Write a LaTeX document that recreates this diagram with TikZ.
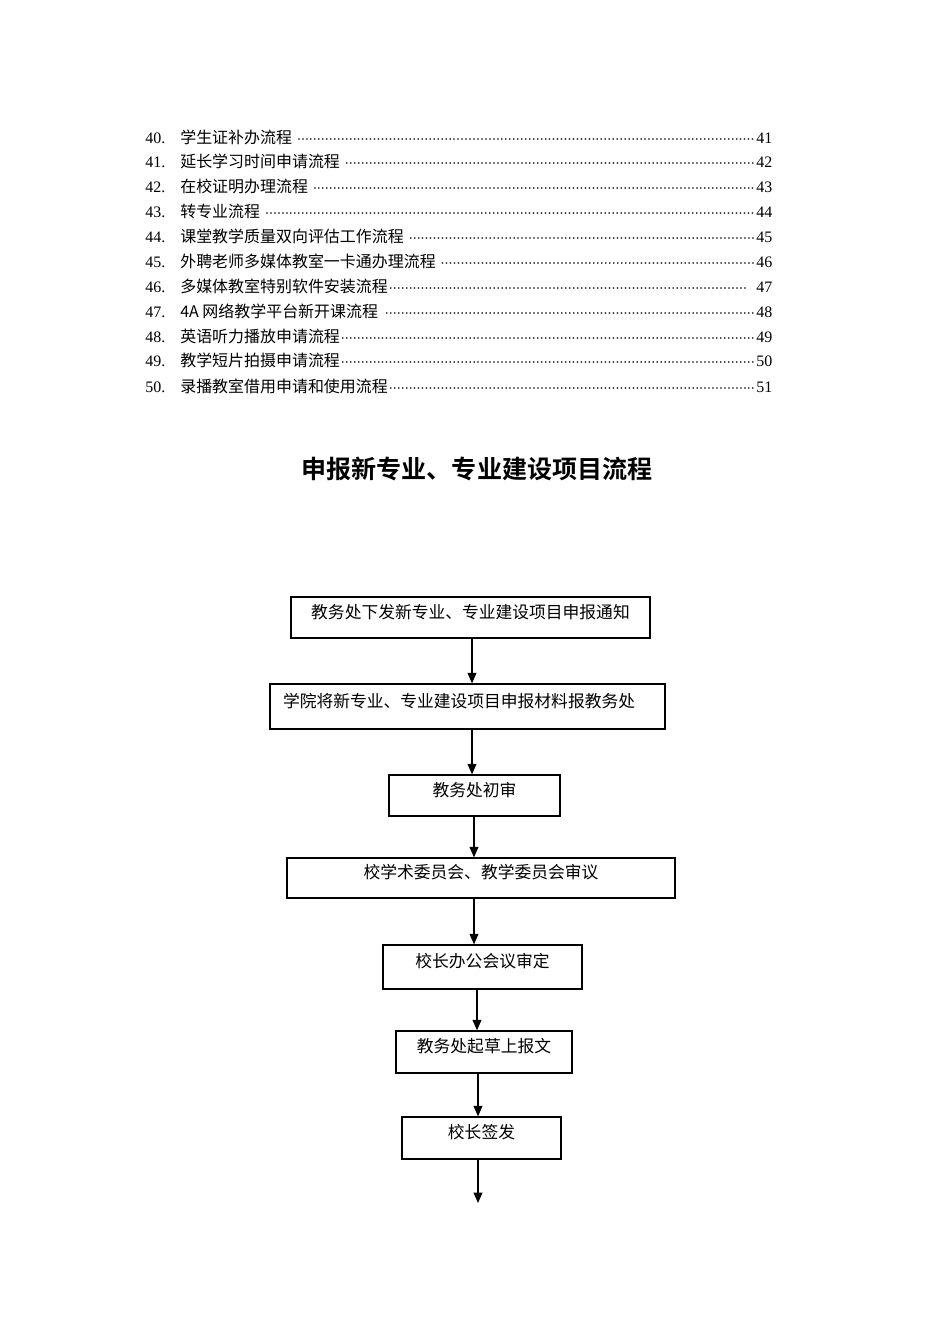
\documentclass[tikz,border=0pt]{standalone}
\usepackage{fontspec}
\setmainfont{Liberation Serif}
\newfontfamily\cjk{Noto Sans CJK SC}[BoldFont={Noto Sans CJK SC Bold}]
\usetikzlibrary{arrows.meta}

\newcommand\pxu{0.6263pt}
\newcommand\tocdots{\leaders\hbox to 2.5pt{\hss$\cdot$\hss}\hfill}
\newcommand\tocline[4]{\makebox[392.7pt][l]{\makebox[21.9pt][l]{#1}{\cjk #2}#3\tocdots #4}}

\tikzset{
  tocrow/.style={anchor=base west, inner sep=0, font=\fontsize{10}{12}\selectfont},
  stepbox/.style={draw, line width=0.8pt, inner sep=0, text height=10.5pt, text depth=9.5pt,
    font=\cjk\fontsize{10.5}{12}\selectfont},
  flow/.style={line width=0.8pt, -{Triangle[length=6.5pt,width=5.5pt]}}
}

\begin{document}
\begin{tikzpicture}[x=\pxu, y=-\pxu]
	\useasboundingbox (0,0) rectangle (950,1344);
	% table of contents
	\node[tocrow] (toc40) at (145,143) {\tocline{40.}{学生证补办流程}{\ }{41}};
	\node[tocrow] (toc41) at (145,167) {\tocline{41.}{延长学习时间申请流程}{\ }{42}};
	\node[tocrow] (toc42) at (145,192) {\tocline{42.}{在校证明办理流程}{\ }{43}};
	\node[tocrow] (toc43) at (145,217) {\tocline{43.}{转专业流程}{\ }{44}};
	\node[tocrow] (toc44) at (145,242) {\tocline{44.}{课堂教学质量双向评估工作流程}{\ }{45}};
	\node[tocrow] (toc45) at (145,267) {\tocline{45.}{外聘老师多媒体教室一卡通办理流程}{\ }{46}};
	\node[tocrow] (toc46) at (145,292) {\tocline{46.}{多媒体教室特别软件安装流程}{}{\ \ 47}};
	\node[tocrow] (toc47) at (145,317) {\tocline{47.}{4A 网络教学平台新开课流程}{\ }{48}};
	\node[tocrow] (toc48) at (145,342) {\tocline{48.}{英语听力播放申请流程}{}{49}};
	\node[tocrow] (toc49) at (145,366) {\tocline{49.}{教学短片拍摄申请流程}{}{50}};
	\node[tocrow] (toc50) at (145,392) {\tocline{50.}{录播教室借用申请和使用流程}{}{51}};

	% flow chart
	\node[font=\cjk\bfseries\fontsize{15.7}{18}\selectfont] (title) at (477,469) {申报新专业、专业建设项目流程};
	\node[stepbox, minimum width=359*\pxu, minimum height=41*\pxu] (notice) at (470.5,617.5) {教务处下发新专业、专业建设项目申报通知};
	\node[stepbox, minimum width=395*\pxu, minimum height=45*\pxu, text width=369*\pxu, align=left] (submit) at (467.5,706.5) {学院将新专业、专业建设项目申报材料报教务处};
	\node[stepbox, minimum width=171*\pxu, minimum height=41*\pxu] (review) at (474.5,795.5) {教务处初审};
	\node[stepbox, minimum width=388*\pxu, minimum height=40*\pxu] (committee) at (481,878) {校学术委员会、教学委员会审议};
	\node[stepbox, minimum width=199*\pxu, minimum height=44*\pxu] (office) at (482.5,967) {校长办公会议审定};
	\node[stepbox, minimum width=176*\pxu, minimum height=42*\pxu] (draft) at (484,1052) {教务处起草上报文};
	\node[stepbox, minimum width=159*\pxu, minimum height=42*\pxu] (sign) at (481.5,1138) {校长签发};
	\coordinate (end) at (478,1203);

	\draw[flow] ([xshift=1.5*\pxu]notice.south) -- ([xshift=1.5*\pxu]notice.south |- submit.north);
	\draw[flow] ([xshift=4.5*\pxu]submit.south) -- ([xshift=4.5*\pxu]submit.south |- review.north);
	\draw[flow] ([xshift=-0.5*\pxu]review.south) -- ([xshift=-0.5*\pxu]review.south |- committee.north);
	\draw[flow] ([xshift=-7*\pxu]committee.south) -- ([xshift=-7*\pxu]committee.south |- office.north);
	\draw[flow] ([xshift=-5.5*\pxu]office.south) -- ([xshift=-5.5*\pxu]office.south |- draft.north);
	\draw[flow] ([xshift=-6*\pxu]draft.south) -- ([xshift=-6*\pxu]draft.south |- sign.north);
	\draw[flow] (sign.south -| end) -- (end);
\end{tikzpicture}
\end{document}
